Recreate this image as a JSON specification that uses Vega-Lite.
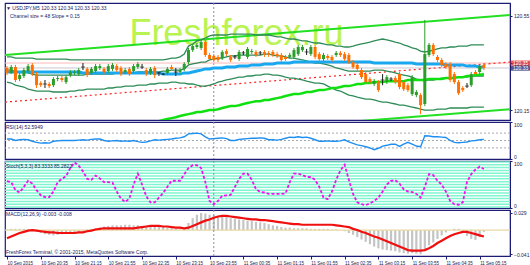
{
"$schema":"https://vega.github.io/schema/vega-lite/v6.json",
"background":"white",
"padding":{"left":1,"top":1,"right":0,"bottom":0},
"spacing":2,
"bounds":"flush",
"config":{"view":{"stroke":"#1c1c78","strokeWidth":1.2},"axis":{"title":null,"grid":false,"labelFont":"Liberation Sans","labelColor":"#202050","domainColor":"#1c1c78","tickColor":"#1c1c78","labelFontSize":5,"tickSize":2,"labelPadding":1.5},"text":{"font":"Liberation Sans"}},
"datasets":{
"chan":[{"t":"2015-09-10T19:52:38","up":120.384,"mid":120.184,"lo":119.984},{"t":"2015-09-11T05:50:56","up":120.554,"mid":120.354,"lo":120.154}],
"bars":[
{"t":"2015-09-10T19:55","o":120.329,"h":120.337,"l":120.299,"c":120.308,"ub":120.376,"mb":120.320,"lb":120.269,"ma":120.312,"rsi":54,"st":57,"mh":0.001,"ms":-0.014},
{"t":"2015-09-10T20:00","o":120.308,"h":120.342,"l":120.303,"c":120.333,"ub":120.376,"mb":120.320,"lb":120.265,"ma":120.312,"rsi":54,"st":55,"mh":0.002,"ms":-0.011},
{"t":"2015-09-10T20:05","o":120.333,"h":120.342,"l":120.269,"c":120.278,"ub":120.371,"mb":120.316,"lb":120.256,"ma":120.312,"rsi":50,"st":38,"mh":0.002,"ms":-0.008},
{"t":"2015-09-10T20:10","o":120.282,"h":120.308,"l":120.273,"c":120.299,"ub":120.371,"mb":120.312,"lb":120.252,"ma":120.312,"rsi":52,"st":33,"mh":0.002,"ms":-0.005},
{"t":"2015-09-10T20:15","o":120.295,"h":120.329,"l":120.286,"c":120.320,"ub":120.371,"mb":120.312,"lb":120.248,"ma":120.312,"rsi":53,"st":45,"mh":0.002,"ms":-0.003},
{"t":"2015-09-10T20:20","o":120.316,"h":120.346,"l":120.308,"c":120.337,"ub":120.371,"mb":120.308,"lb":120.239,"ma":120.312,"rsi":52,"st":58,"mh":0.001,"ms":-0.001},
{"t":"2015-09-10T20:25","o":120.342,"h":120.350,"l":120.295,"c":120.303,"ub":120.371,"mb":120.303,"lb":120.235,"ma":120.312,"rsi":48,"st":52,"mh":0.0,"ms":0.0},
{"t":"2015-09-10T20:30","o":120.303,"h":120.312,"l":120.244,"c":120.256,"ub":120.367,"mb":120.299,"lb":120.231,"ma":120.312,"rsi":45,"st":38,"mh":-0.002,"ms":-0.001},
{"t":"2015-09-10T20:35","o":120.265,"h":120.273,"l":120.248,"c":120.256,"ub":120.367,"mb":120.299,"lb":120.231,"ma":120.312,"rsi":43,"st":27,"mh":-0.005,"ms":-0.002},
{"t":"2015-09-10T20:40","o":120.261,"h":120.278,"l":120.244,"c":120.261,"ub":120.367,"mb":120.299,"lb":120.231,"ma":120.312,"rsi":44,"st":23,"mh":-0.007,"ms":-0.003},
{"t":"2015-09-10T20:45","o":120.261,"h":120.269,"l":120.244,"c":120.252,"ub":120.367,"mb":120.299,"lb":120.231,"ma":120.312,"rsi":43,"st":23,"mh":-0.008,"ms":-0.004},
{"t":"2015-09-10T20:50","o":120.256,"h":120.290,"l":120.248,"c":120.282,"ub":120.367,"mb":120.299,"lb":120.227,"ma":120.312,"rsi":48,"st":35,"mh":-0.009,"ms":-0.004},
{"t":"2015-09-10T20:55","o":120.282,"h":120.295,"l":120.273,"c":120.286,"ub":120.367,"mb":120.299,"lb":120.227,"ma":120.312,"rsi":49,"st":55,"mh":-0.008,"ms":-0.005},
{"t":"2015-09-10T21:00","o":120.286,"h":120.295,"l":120.269,"c":120.278,"ub":120.367,"mb":120.299,"lb":120.227,"ma":120.312,"rsi":50,"st":62,"mh":-0.007,"ms":-0.005},
{"t":"2015-09-10T21:05","o":120.269,"h":120.299,"l":120.261,"c":120.290,"ub":120.367,"mb":120.299,"lb":120.227,"ma":120.312,"rsi":50,"st":68,"mh":-0.006,"ms":-0.005},
{"t":"2015-09-10T21:10","o":120.299,"h":120.320,"l":120.290,"c":120.312,"ub":120.363,"mb":120.299,"lb":120.231,"ma":120.312,"rsi":50,"st":85,"mh":-0.005,"ms":-0.005},
{"t":"2015-09-10T21:15","o":120.308,"h":120.320,"l":120.299,"c":120.312,"ub":120.363,"mb":120.299,"lb":120.231,"ma":120.312,"rsi":50,"st":97,"mh":-0.004,"ms":-0.005},
{"t":"2015-09-10T21:20","o":120.303,"h":120.329,"l":120.295,"c":120.320,"ub":120.363,"mb":120.299,"lb":120.235,"ma":120.312,"rsi":51,"st":90,"mh":-0.003,"ms":-0.004},
{"t":"2015-09-10T21:25","o":120.333,"h":120.350,"l":120.320,"c":120.333,"ub":120.363,"mb":120.299,"lb":120.235,"ma":120.308,"rsi":52,"st":78,"mh":-0.002,"ms":-0.004},
{"t":"2015-09-10T21:30","o":120.325,"h":120.333,"l":120.290,"c":120.299,"ub":120.363,"mb":120.303,"lb":120.239,"ma":120.308,"rsi":51,"st":62,"mh":0.001,"ms":-0.002},
{"t":"2015-09-10T21:35","o":120.308,"h":120.333,"l":120.299,"c":120.325,"ub":120.363,"mb":120.303,"lb":120.239,"ma":120.308,"rsi":53,"st":60,"mh":0.002,"ms":-0.001},
{"t":"2015-09-10T21:40","o":120.316,"h":120.346,"l":120.308,"c":120.337,"ub":120.363,"mb":120.303,"lb":120.239,"ma":120.308,"rsi":54,"st":69,"mh":0.003,"ms":0.001},
{"t":"2015-09-10T21:45","o":120.329,"h":120.346,"l":120.320,"c":120.337,"ub":120.363,"mb":120.303,"lb":120.239,"ma":120.308,"rsi":54,"st":63,"mh":0.004,"ms":0.002},
{"t":"2015-09-10T21:50","o":120.325,"h":120.333,"l":120.303,"c":120.312,"ub":120.363,"mb":120.303,"lb":120.239,"ma":120.308,"rsi":50,"st":55,"mh":0.006,"ms":0.003},
{"t":"2015-09-10T21:55","o":120.316,"h":120.346,"l":120.308,"c":120.337,"ub":120.363,"mb":120.303,"lb":120.244,"ma":120.308,"rsi":48,"st":55,"mh":0.007,"ms":0.003},
{"t":"2015-09-10T22:00","o":120.325,"h":120.350,"l":120.316,"c":120.342,"ub":120.363,"mb":120.303,"lb":120.244,"ma":120.308,"rsi":49,"st":54,"mh":0.008,"ms":0.003},
{"t":"2015-09-10T22:05","o":120.337,"h":120.346,"l":120.312,"c":120.320,"ub":120.363,"mb":120.308,"lb":120.248,"ma":120.308,"rsi":50,"st":35,"mh":0.008,"ms":0.003},
{"t":"2015-09-10T22:10","o":120.329,"h":120.337,"l":120.295,"c":120.303,"ub":120.363,"mb":120.308,"lb":120.248,"ma":120.308,"rsi":48,"st":20,"mh":0.008,"ms":0.003},
{"t":"2015-09-10T22:15","o":120.312,"h":120.329,"l":120.303,"c":120.320,"ub":120.363,"mb":120.308,"lb":120.252,"ma":120.308,"rsi":49,"st":13,"mh":0.009,"ms":0.003},
{"t":"2015-09-10T22:20","o":120.325,"h":120.333,"l":120.295,"c":120.303,"ub":120.363,"mb":120.308,"lb":120.252,"ma":120.308,"rsi":48,"st":20,"mh":0.009,"ms":0.003},
{"t":"2015-09-10T22:25","o":120.316,"h":120.346,"l":120.308,"c":120.337,"ub":120.363,"mb":120.308,"lb":120.252,"ma":120.308,"rsi":50,"st":50,"mh":0.008,"ms":0.003},
{"t":"2015-09-10T22:30","o":120.333,"h":120.354,"l":120.325,"c":120.346,"ub":120.363,"mb":120.312,"lb":120.256,"ma":120.308,"rsi":47,"st":73,"mh":0.008,"ms":0.004},
{"t":"2015-09-10T22:35","o":120.333,"h":120.346,"l":120.325,"c":120.333,"ub":120.363,"mb":120.312,"lb":120.256,"ma":120.308,"rsi":45,"st":50,"mh":0.007,"ms":0.005},
{"t":"2015-09-10T22:40","o":120.320,"h":120.329,"l":120.295,"c":120.303,"ub":120.363,"mb":120.312,"lb":120.256,"ma":120.308,"rsi":46,"st":25,"mh":0.007,"ms":0.006},
{"t":"2015-09-10T22:45","o":120.308,"h":120.333,"l":120.299,"c":120.325,"ub":120.363,"mb":120.312,"lb":120.261,"ma":120.308,"rsi":49,"st":12,"mh":0.007,"ms":0.007},
{"t":"2015-09-10T22:50","o":120.329,"h":120.337,"l":120.286,"c":120.299,"ub":120.363,"mb":120.312,"lb":120.261,"ma":120.308,"g":120.099,"rsi":52,"st":12,"mh":0.007,"ms":0.007},
{"t":"2015-09-10T22:55","o":120.308,"h":120.312,"l":120.295,"c":120.308,"ub":120.363,"mb":120.312,"lb":120.265,"ma":120.308,"g":120.103,"rsi":51,"st":22,"mh":0.006,"ms":0.007},
{"t":"2015-09-10T23:00","o":120.303,"h":120.308,"l":120.299,"c":120.303,"ub":120.363,"mb":120.316,"lb":120.265,"ma":120.303,"g":120.108,"rsi":52,"st":32,"mh":0.005,"ms":0.006},
{"t":"2015-09-10T23:05","o":120.308,"h":120.333,"l":120.299,"c":120.325,"ub":120.367,"mb":120.316,"lb":120.265,"ma":120.303,"g":120.112,"rsi":53,"st":45,"mh":0.004,"ms":0.006},
{"t":"2015-09-10T23:10","o":120.333,"h":120.342,"l":120.316,"c":120.325,"ub":120.371,"mb":120.320,"lb":120.269,"ma":120.303,"g":120.116,"rsi":54,"st":58,"mh":0.003,"ms":0.005},
{"t":"2015-09-10T23:15","o":120.312,"h":120.329,"l":120.295,"c":120.312,"ub":120.371,"mb":120.320,"lb":120.269,"ma":120.303,"g":120.120,"rsi":56,"st":58,"mh":0.002,"ms":0.004},
{"t":"2015-09-10T23:20","o":120.312,"h":120.329,"l":120.303,"c":120.320,"ub":120.376,"mb":120.320,"lb":120.265,"ma":120.303,"g":120.125,"rsi":57,"st":58,"mh":0.001,"ms":0.004},
{"t":"2015-09-10T23:25","o":120.325,"h":120.354,"l":120.316,"c":120.346,"ub":120.388,"mb":120.325,"lb":120.265,"ma":120.308,"g":120.129,"rsi":60,"st":72,"mh":0.004,"ms":0.003},
{"t":"2015-09-10T23:30","o":120.354,"h":120.414,"l":120.346,"c":120.405,"ub":120.422,"mb":120.342,"lb":120.261,"ma":120.308,"g":120.133,"rsi":68,"st":85,"mh":0.012,"ms":0.004},
{"t":"2015-09-10T23:35","o":120.405,"h":120.431,"l":120.397,"c":120.422,"ub":120.431,"mb":120.346,"lb":120.261,"ma":120.312,"g":120.137,"rsi":69,"st":91,"mh":0.020,"ms":0.007},
{"t":"2015-09-10T23:40","o":120.418,"h":120.435,"l":120.410,"c":120.427,"ub":120.444,"mb":120.350,"lb":120.256,"ma":120.316,"g":120.142,"rsi":70,"st":91,"mh":0.026,"ms":0.010},
{"t":"2015-09-10T23:45","o":120.414,"h":120.448,"l":120.405,"c":120.439,"ub":120.448,"mb":120.354,"lb":120.252,"ma":120.320,"g":120.142,"rsi":68,"st":85,"mh":0.029,"ms":0.013},
{"t":"2015-09-10T23:50","o":120.439,"h":120.456,"l":120.376,"c":120.384,"ub":120.456,"mb":120.354,"lb":120.252,"ma":120.325,"g":120.146,"rsi":60,"st":55,"mh":0.028,"ms":0.016},
{"t":"2015-09-10T23:55","o":120.384,"h":120.393,"l":120.359,"c":120.367,"ub":120.465,"mb":120.363,"lb":120.256,"ma":120.325,"g":120.150,"rsi":54,"st":15,"mh":0.026,"ms":0.018},
{"t":"2015-09-11T00:00","o":120.380,"h":120.388,"l":120.354,"c":120.363,"ub":120.469,"mb":120.367,"lb":120.261,"ma":120.329,"g":120.150,"rsi":55,"st":8,"mh":0.025,"ms":0.021},
{"t":"2015-09-11T00:05","o":120.376,"h":120.384,"l":120.354,"c":120.363,"ub":120.469,"mb":120.371,"lb":120.269,"ma":120.329,"g":120.154,"rsi":56,"st":15,"mh":0.024,"ms":0.023},
{"t":"2015-09-11T00:10","o":120.371,"h":120.405,"l":120.363,"c":120.397,"ub":120.469,"mb":120.371,"lb":120.273,"ma":120.329,"g":120.159,"rsi":57,"st":26,"mh":0.023,"ms":0.024},
{"t":"2015-09-11T00:15","o":120.401,"h":120.410,"l":120.380,"c":120.388,"ub":120.469,"mb":120.376,"lb":120.278,"ma":120.333,"g":120.163,"rsi":55,"st":27,"mh":0.022,"ms":0.024},
{"t":"2015-09-11T00:20","o":120.376,"h":120.384,"l":120.354,"c":120.363,"ub":120.473,"mb":120.380,"lb":120.282,"ma":120.333,"g":120.167,"rsi":50,"st":28,"mh":0.020,"ms":0.023},
{"t":"2015-09-11T00:25","o":120.376,"h":120.384,"l":120.367,"c":120.376,"ub":120.473,"mb":120.380,"lb":120.286,"ma":120.333,"g":120.167,"rsi":50,"st":45,"mh":0.019,"ms":0.022},
{"t":"2015-09-11T00:30","o":120.367,"h":120.405,"l":120.359,"c":120.397,"ub":120.473,"mb":120.384,"lb":120.290,"ma":120.337,"g":120.171,"rsi":53,"st":62,"mh":0.018,"ms":0.021},
{"t":"2015-09-11T00:35","o":120.393,"h":120.401,"l":120.384,"c":120.393,"ub":120.473,"mb":120.384,"lb":120.290,"ma":120.337,"g":120.176,"rsi":54,"st":73,"mh":0.017,"ms":0.020},
{"t":"2015-09-11T00:40","o":120.376,"h":120.418,"l":120.367,"c":120.410,"ub":120.473,"mb":120.384,"lb":120.295,"ma":120.337,"g":120.180,"rsi":55,"st":73,"mh":0.016,"ms":0.019},
{"t":"2015-09-11T00:45","o":120.397,"h":120.410,"l":120.388,"c":120.401,"ub":120.473,"mb":120.384,"lb":120.295,"ma":120.342,"g":120.184,"rsi":56,"st":60,"mh":0.015,"ms":0.018},
{"t":"2015-09-11T00:50","o":120.397,"h":120.405,"l":120.376,"c":120.384,"ub":120.469,"mb":120.384,"lb":120.299,"ma":120.342,"g":120.188,"rsi":56,"st":40,"mh":0.014,"ms":0.018},
{"t":"2015-09-11T00:55","o":120.393,"h":120.401,"l":120.384,"c":120.393,"ub":120.469,"mb":120.384,"lb":120.299,"ma":120.342,"g":120.188,"rsi":57,"st":34,"mh":0.013,"ms":0.017},
{"t":"2015-09-11T01:00","o":120.397,"h":120.405,"l":120.376,"c":120.384,"ub":120.469,"mb":120.388,"lb":120.303,"ma":120.346,"g":120.193,"rsi":56,"st":33,"mh":0.012,"ms":0.017},
{"t":"2015-09-11T01:05","o":120.393,"h":120.401,"l":120.376,"c":120.384,"ub":120.469,"mb":120.388,"lb":120.303,"ma":120.346,"g":120.193,"rsi":52,"st":30,"mh":0.010,"ms":0.016},
{"t":"2015-09-11T01:10","o":120.397,"h":120.405,"l":120.376,"c":120.384,"ub":120.465,"mb":120.384,"lb":120.299,"ma":120.346,"g":120.197,"rsi":52,"st":30,"mh":0.008,"ms":0.015},
{"t":"2015-09-11T01:15","o":120.388,"h":120.397,"l":120.371,"c":120.380,"ub":120.461,"mb":120.380,"lb":120.299,"ma":120.350,"g":120.201,"rsi":51,"st":30,"mh":0.007,"ms":0.014},
{"t":"2015-09-11T01:20","o":120.384,"h":120.393,"l":120.354,"c":120.363,"ub":120.461,"mb":120.380,"lb":120.295,"ma":120.350,"g":120.205,"rsi":53,"st":30,"mh":0.005,"ms":0.013},
{"t":"2015-09-11T01:25","o":120.376,"h":120.384,"l":120.359,"c":120.367,"ub":120.456,"mb":120.376,"lb":120.290,"ma":120.350,"g":120.210,"rsi":56,"st":31,"mh":0.004,"ms":0.012},
{"t":"2015-09-11T01:30","o":120.376,"h":120.393,"l":120.367,"c":120.384,"ub":120.452,"mb":120.371,"lb":120.286,"ma":120.350,"g":120.214,"rsi":59,"st":55,"mh":0.004,"ms":0.011},
{"t":"2015-09-11T01:35","o":120.376,"h":120.414,"l":120.367,"c":120.405,"ub":120.452,"mb":120.371,"lb":120.286,"ma":120.354,"g":120.218,"rsi":58,"st":73,"mh":0.003,"ms":0.010},
{"t":"2015-09-11T01:40","o":120.388,"h":120.427,"l":120.380,"c":120.418,"ub":120.448,"mb":120.367,"lb":120.282,"ma":120.354,"g":120.218,"rsi":60,"st":73,"mh":0.003,"ms":0.010},
{"t":"2015-09-11T01:45","o":120.405,"h":120.427,"l":120.397,"c":120.418,"ub":120.444,"mb":120.363,"lb":120.278,"ma":120.354,"g":120.222,"rsi":58,"st":70,"mh":0.003,"ms":0.009},
{"t":"2015-09-11T01:50","o":120.397,"h":120.410,"l":120.384,"c":120.397,"ub":120.444,"mb":120.359,"lb":120.273,"ma":120.354,"g":120.227,"rsi":59,"st":66,"mh":0.003,"ms":0.009},
{"t":"2015-09-11T01:55","o":120.388,"h":120.427,"l":120.380,"c":120.418,"ub":120.439,"mb":120.354,"lb":120.269,"ma":120.354,"g":120.227,"rsi":56,"st":66,"mh":0.002,"ms":0.009},
{"t":"2015-09-11T02:00","o":120.418,"h":120.427,"l":120.367,"c":120.376,"ub":120.435,"mb":120.350,"lb":120.265,"ma":120.354,"g":120.231,"rsi":52,"st":60,"mh":0.002,"ms":0.009},
{"t":"2015-09-11T02:05","o":120.388,"h":120.397,"l":120.359,"c":120.367,"ub":120.435,"mb":120.350,"lb":120.265,"ma":120.354,"g":120.235,"rsi":48,"st":45,"mh":0.002,"ms":0.009},
{"t":"2015-09-11T02:10","o":120.367,"h":120.393,"l":120.359,"c":120.384,"ub":120.431,"mb":120.346,"lb":120.261,"ma":120.354,"g":120.235,"rsi":48,"st":22,"mh":0.002,"ms":0.009},
{"t":"2015-09-11T02:15","o":120.380,"h":120.388,"l":120.363,"c":120.371,"ub":120.427,"mb":120.342,"lb":120.252,"ma":120.354,"g":120.239,"rsi":49,"st":19,"mh":0.002,"ms":0.009},
{"t":"2015-09-11T02:20","o":120.376,"h":120.384,"l":120.354,"c":120.363,"ub":120.427,"mb":120.337,"lb":120.244,"ma":120.354,"g":120.244,"rsi":48,"st":35,"mh":0.001,"ms":0.009},
{"t":"2015-09-11T02:25","o":120.384,"h":120.401,"l":120.376,"c":120.393,"ub":120.422,"mb":120.329,"lb":120.235,"ma":120.354,"g":120.244,"rsi":48,"st":60,"mh":0.001,"ms":0.008},
{"t":"2015-09-11T02:30","o":120.393,"h":120.401,"l":120.376,"c":120.384,"ub":120.422,"mb":120.325,"lb":120.231,"ma":120.354,"g":120.248,"rsi":49,"st":80,"mh":0.0,"ms":0.007},
{"t":"2015-09-11T02:35","o":120.388,"h":120.397,"l":120.359,"c":120.367,"ub":120.418,"mb":120.320,"lb":120.222,"ma":120.354,"g":120.252,"rsi":52,"st":92,"mh":-0.002,"ms":0.006},
{"t":"2015-09-11T02:40","o":120.384,"h":120.393,"l":120.346,"c":120.354,"ub":120.418,"mb":120.316,"lb":120.214,"ma":120.354,"g":120.252,"rsi":46,"st":60,"mh":-0.005,"ms":0.005},
{"t":"2015-09-11T02:45","o":120.354,"h":120.363,"l":120.325,"c":120.333,"ub":120.422,"mb":120.316,"lb":120.210,"ma":120.354,"g":120.256,"rsi":42,"st":30,"mh":-0.008,"ms":0.002},
{"t":"2015-09-11T02:50","o":120.342,"h":120.350,"l":120.316,"c":120.325,"ub":120.427,"mb":120.316,"lb":120.205,"ma":120.354,"g":120.261,"rsi":38,"st":12,"mh":-0.012,"ms":0.0},
{"t":"2015-09-11T02:55","o":120.320,"h":120.329,"l":120.282,"c":120.290,"ub":120.431,"mb":120.316,"lb":120.201,"ma":120.354,"g":120.261,"rsi":36,"st":8,"mh":-0.016,"ms":-0.003},
{"t":"2015-09-11T03:00","o":120.303,"h":120.312,"l":120.261,"c":120.269,"ub":120.435,"mb":120.316,"lb":120.197,"ma":120.354,"g":120.265,"rsi":33,"st":6,"mh":-0.020,"ms":-0.005},
{"t":"2015-09-11T03:05","o":120.282,"h":120.290,"l":120.261,"c":120.269,"ub":120.439,"mb":120.316,"lb":120.197,"ma":120.354,"g":120.265,"rsi":30,"st":10,"mh":-0.024,"ms":-0.008},
{"t":"2015-09-11T03:10","o":120.261,"h":120.282,"l":120.252,"c":120.273,"ub":120.444,"mb":120.320,"lb":120.193,"ma":120.350,"g":120.269,"rsi":25,"st":15,"mh":-0.028,"ms":-0.011},
{"t":"2015-09-11T03:15","o":120.269,"h":120.278,"l":120.227,"c":120.235,"ub":120.448,"mb":120.320,"lb":120.188,"ma":120.350,"g":120.269,"rsi":29,"st":22,"mh":-0.031,"ms":-0.013},
{"t":"2015-09-11T03:20","o":120.278,"h":120.303,"l":120.256,"c":120.278,"ub":120.452,"mb":120.320,"lb":120.184,"ma":120.350,"g":120.269,"rsi":35,"st":35,"mh":-0.033,"ms":-0.016},
{"t":"2015-09-11T03:25","o":120.269,"h":120.299,"l":120.261,"c":120.290,"ub":120.448,"mb":120.316,"lb":120.184,"ma":120.350,"g":120.273,"rsi":37,"st":50,"mh":-0.034,"ms":-0.019},
{"t":"2015-09-11T03:30","o":120.282,"h":120.290,"l":120.273,"c":120.282,"ub":120.444,"mb":120.312,"lb":120.180,"ma":120.350,"g":120.273,"rsi":40,"st":58,"mh":-0.035,"ms":-0.022},
{"t":"2015-09-11T03:35","o":120.286,"h":120.295,"l":120.261,"c":120.269,"ub":120.439,"mb":120.308,"lb":120.176,"ma":120.350,"g":120.273,"rsi":40,"st":59,"mh":-0.036,"ms":-0.025},
{"t":"2015-09-11T03:40","o":120.303,"h":120.312,"l":120.239,"c":120.248,"ub":120.435,"mb":120.303,"lb":120.171,"ma":120.350,"g":120.273,"rsi":34,"st":52,"mh":-0.038,"ms":-0.028},
{"t":"2015-09-11T03:45","o":120.269,"h":120.278,"l":120.231,"c":120.239,"ub":120.427,"mb":120.299,"lb":120.171,"ma":120.350,"g":120.273,"rsi":40,"st":40,"mh":-0.039,"ms":-0.031},
{"t":"2015-09-11T03:50","o":120.256,"h":120.265,"l":120.227,"c":120.235,"ub":120.422,"mb":120.295,"lb":120.167,"ma":120.350,"g":120.278,"rsi":45,"st":35,"mh":-0.040,"ms":-0.034},
{"t":"2015-09-11T03:55","o":120.218,"h":120.299,"l":120.210,"c":120.290,"ub":120.414,"mb":120.290,"lb":120.163,"ma":120.350,"g":120.278,"rsi":40,"st":34,"mh":-0.039,"ms":-0.035},
{"t":"2015-09-11T04:00","o":120.214,"h":120.235,"l":120.205,"c":120.227,"ub":120.410,"mb":120.282,"lb":120.159,"ma":120.346,"g":120.278,"rsi":35,"st":30,"mh":-0.040,"ms":-0.035},
{"t":"2015-09-11T04:05","o":120.214,"h":120.222,"l":120.133,"c":120.171,"ub":120.401,"mb":120.278,"lb":120.154,"ma":120.346,"g":120.278,"rsi":33,"st":22,"mh":-0.041,"ms":-0.035},
{"t":"2015-09-11T04:10","o":120.176,"h":120.533,"l":120.167,"c":120.388,"ub":120.397,"mb":120.273,"lb":120.150,"ma":120.346,"g":120.278,"rsi":63,"st":45,"mh":-0.032,"ms":-0.034},
{"t":"2015-09-11T04:15","o":120.384,"h":120.435,"l":120.376,"c":120.427,"ub":120.401,"mb":120.278,"lb":120.150,"ma":120.346,"g":120.282,"rsi":62,"st":72,"mh":-0.026,"ms":-0.031},
{"t":"2015-09-11T04:20","o":120.427,"h":120.435,"l":120.380,"c":120.388,"ub":120.405,"mb":120.278,"lb":120.150,"ma":120.346,"g":120.282,"rsi":60,"st":70,"mh":-0.021,"ms":-0.027},
{"t":"2015-09-11T04:25","o":120.376,"h":120.384,"l":120.354,"c":120.363,"ub":120.410,"mb":120.282,"lb":120.154,"ma":120.346,"g":120.282,"rsi":60,"st":58,"mh":-0.015,"ms":-0.022},
{"t":"2015-09-11T04:30","o":120.363,"h":120.371,"l":120.333,"c":120.342,"ub":120.414,"mb":120.286,"lb":120.154,"ma":120.346,"g":120.282,"rsi":59,"st":50,"mh":-0.009,"ms":-0.018},
{"t":"2015-09-11T04:35","o":120.346,"h":120.354,"l":120.325,"c":120.333,"ub":120.414,"mb":120.286,"lb":120.154,"ma":120.342,"g":120.286,"rsi":58,"st":35,"mh":-0.004,"ms":-0.014},
{"t":"2015-09-11T04:40","o":120.346,"h":120.354,"l":120.269,"c":120.278,"ub":120.418,"mb":120.286,"lb":120.159,"ma":120.342,"g":120.286,"rsi":50,"st":15,"mh":0.0,"ms":-0.010},
{"t":"2015-09-11T04:45","o":120.303,"h":120.312,"l":120.261,"c":120.269,"ub":120.418,"mb":120.290,"lb":120.159,"ma":120.342,"g":120.286,"rsi":45,"st":8,"mh":0.002,"ms":-0.007},
{"t":"2015-09-11T04:50","o":120.269,"h":120.278,"l":120.214,"c":120.222,"ub":120.422,"mb":120.290,"lb":120.159,"ma":120.342,"g":120.290,"rsi":44,"st":7,"mh":0.002,"ms":-0.005},
{"t":"2015-09-11T04:55","o":120.244,"h":120.252,"l":120.227,"c":120.235,"ub":120.422,"mb":120.290,"lb":120.159,"ma":120.342,"g":120.290,"rsi":45,"st":12,"mh":-0.005,"ms":-0.003},
{"t":"2015-09-11T05:00","o":120.252,"h":120.265,"l":120.244,"c":120.252,"ub":120.422,"mb":120.290,"lb":120.159,"ma":120.337,"g":120.295,"rsi":46,"st":55,"mh":-0.010,"ms":-0.003},
{"t":"2015-09-11T05:05","o":120.256,"h":120.312,"l":120.248,"c":120.303,"ub":120.427,"mb":120.295,"lb":120.163,"ma":120.337,"g":120.295,"rsi":49,"st":72,"mh":-0.015,"ms":-0.005},
{"t":"2015-09-11T05:10","o":120.312,"h":120.320,"l":120.295,"c":120.303,"ub":120.427,"mb":120.295,"lb":120.163,"ma":120.337,"g":120.299,"rsi":50,"st":82,"mh":-0.017,"ms":-0.007},
{"t":"2015-09-11T05:15","o":120.312,"h":120.346,"l":120.303,"c":120.337,"ub":120.427,"mb":120.295,"lb":120.163,"ma":120.333,"g":120.299,"rsi":52,"st":88,"mh":-0.012,"ms":-0.009},
{"t":"2015-09-11T05:20","o":120.342,"h":120.350,"l":120.320,"c":120.329,"ub":120.427,"mb":120.295,"lb":120.163,"ma":120.333,"g":120.303,"rsi":53,"st":83,"mh":-0.003,"ms":-0.011}
]},
"vconcat":[
{"width":505,"height":117,"data":{"name":"bars"},
 "encoding":{"x":{"field":"t","type":"temporal","scale":{"domain":["2015-09-10T19:52:38","2015-09-11T05:50:56"]},"axis":null}},
 "layer":[
  {"transform":[{"filter":"hours(datum.t) == 22 && minutes(datum.t) == 20"}],"mark":{"type":"text","fontSize":36,"color":"#b2f23c","align":"left","baseline":"alphabetic","opacity":0.9},"encoding":{"y":{"datum":120.427,"type":"quantitative","scale":{"domain":[120.108,120.605],"nice":false,"zero":false},"axis":{"orient":"right","values":[120.15,120.25,120.35,120.45,120.55],"format":".2f"}},"text":{"value":"Freshforex.ru"}}},
  {"transform":[{"filter":"hours(datum.t) == 0 && minutes(datum.t) == 0"}],"mark":{"type":"rule","color":"#8a8aa8","strokeDash":[2,2],"strokeWidth":1}},
  {"data":{"name":"chan"},"mark":{"type":"line","color":"#ffb8b8","strokeWidth":1},"encoding":{"y":{"datum":120.35,"type":"quantitative"}}},
  {"data":{"name":"chan"},"mark":{"type":"line","color":"#c8c8d0","strokeWidth":1},"encoding":{"y":{"datum":120.329,"type":"quantitative"}}},
  {"data":{"name":"chan"},"mark":{"type":"line","color":"#22e022","strokeWidth":2,"clip":true},"encoding":{"y":{"field":"up","type":"quantitative"}}},
  {"data":{"name":"chan"},"mark":{"type":"line","color":"#ff2020","strokeWidth":1.2,"strokeDash":[2,3],"clip":true},"encoding":{"y":{"field":"mid","type":"quantitative"}}},
  {"data":{"name":"chan"},"mark":{"type":"line","color":"#22e022","strokeWidth":2,"clip":true},"encoding":{"y":{"field":"lo","type":"quantitative"}}},
  {"mark":{"type":"line","color":"#2e8b57","strokeWidth":1.3,"clip":true},"encoding":{"y":{"field":"ub","type":"quantitative"}}},
  {"mark":{"type":"line","color":"#2e8b57","strokeWidth":1.3,"clip":true},"encoding":{"y":{"field":"mb","type":"quantitative"}}},
  {"mark":{"type":"line","color":"#2e8b57","strokeWidth":1.3,"clip":true},"encoding":{"y":{"field":"lb","type":"quantitative"}}},
  {"mark":{"type":"line","color":"#18a8f0","strokeWidth":3,"clip":true},"encoding":{"y":{"field":"ma","type":"quantitative"}}},
  {"transform":[{"filter":"isValid(datum.g)"}],"mark":{"type":"line","color":"#10e010","strokeWidth":2.5,"clip":true},"encoding":{"y":{"field":"g","type":"quantitative"}}},
  {"mark":{"type":"rule","strokeWidth":1,"clip":true},"encoding":{"y":{"field":"l","type":"quantitative"},"y2":{"field":"h"},"color":{"condition":[{"test":"datum.c > datum.o","value":"#2a9d2a"},{"test":"datum.c < datum.o","value":"#ff7000"}],"value":"#1a1a1a"}}},
  {"mark":{"type":"rule","strokeWidth":3,"clip":true},"encoding":{"y":{"field":"o","type":"quantitative"},"y2":{"field":"c"},"color":{"condition":[{"test":"datum.c > datum.o","value":"#2a9d2a"},{"test":"datum.c < datum.o","value":"#ff7000"}],"value":"#1a1a1a"}}},
  {"transform":[{"filter":"datum.o == datum.c"}],"mark":{"type":"tick","orient":"horizontal","size":4,"thickness":1,"color":"#1a1a1a"},"encoding":{"y":{"field":"c","type":"quantitative"}}},
  {"data":{"name":"chan"},"transform":[{"filter":"datum.mid > 120.3"}],"mark":{"type":"tick","orient":"horizontal","size":21,"thickness":5,"xOffset":11,"color":"#e01010"},"encoding":{"y":{"datum":120.35,"type":"quantitative"}}},
  {"data":{"name":"chan"},"transform":[{"filter":"datum.mid > 120.3"}],"mark":{"type":"tick","orient":"horizontal","size":21,"thickness":5,"xOffset":11,"color":"#101060"},"encoding":{"y":{"datum":120.328,"type":"quantitative"}}},
  {"data":{"name":"chan"},"transform":[{"filter":"datum.mid > 120.3"}],"mark":{"type":"text","fontSize":5,"color":"white","align":"left","baseline":"middle","dx":3},"encoding":{"y":{"datum":120.35,"type":"quantitative"},"text":{"value":"120.35"}}},
  {"data":{"name":"chan"},"transform":[{"filter":"datum.mid > 120.3"}],"mark":{"type":"text","fontSize":5,"color":"white","align":"left","baseline":"middle","dx":3},"encoding":{"y":{"datum":120.328,"type":"quantitative"},"text":{"value":"120.33"}}},
  {"transform":[{"filter":"hours(datum.t) == 19 && minutes(datum.t) == 55"}],"mark":{"type":"text","fontSize":5,"color":"#1a1a60","align":"left","baseline":"middle","dx":-1},"encoding":{"y":{"datum":120.584,"type":"quantitative"},"text":{"value":"▼ USDJPY,M5  120.33 120.34 120.33 120.33"}}},
  {"transform":[{"filter":"hours(datum.t) == 19 && minutes(datum.t) == 55"}],"mark":{"type":"text","fontSize":5,"color":"#1a1a60","align":"left","baseline":"middle","dx":3},"encoding":{"y":{"datum":120.55,"type":"quantitative"},"text":{"value":"Channel size = 48 Slope = 0.15"}}}
 ]},
{"width":505,"height":37,"data":{"name":"bars"},
 "encoding":{"x":{"field":"t","type":"temporal","scale":{"domain":["2015-09-10T19:52:38","2015-09-11T05:50:56"]},"axis":null}},
 "layer":[
  {"data":{"values":[{"lv":70},{"lv":50},{"lv":30}]},"mark":{"type":"rule","color":"#a8a8b0","strokeDash":[2,2],"strokeWidth":1},"encoding":{"x":null,"y":{"field":"lv","type":"quantitative","scale":{"domain":[0,100],"nice":false},"axis":{"orient":"right","values":[0,30,50,70,100],"labelFlush":true}}}},
  {"transform":[{"filter":"hours(datum.t) == 0 && minutes(datum.t) == 0"}],"mark":{"type":"rule","color":"#8a8aa8","strokeDash":[2,2],"strokeWidth":1}},
  {"mark":{"type":"line","color":"#1e8ff0","strokeWidth":1.4},"encoding":{"y":{"field":"rsi","type":"quantitative"}}},
  {"transform":[{"filter":"hours(datum.t) == 19 && minutes(datum.t) == 55"}],"mark":{"type":"text","fontSize":5,"color":"#1a1a60","align":"left","baseline":"middle","dx":-1},"encoding":{"y":{"datum":87,"type":"quantitative"},"text":{"value":"RSI(14) 52.5949"}}}
 ]},
{"width":505,"height":47,"data":{"name":"bars"},
 "encoding":{"x":{"field":"t","type":"temporal","scale":{"domain":["2015-09-10T19:52:38","2015-09-11T05:50:56"]},"axis":null}},
 "layer":[
  {"data":{"values":[{"lv":2},{"lv":8},{"lv":14},{"lv":20},{"lv":26},{"lv":32},{"lv":38},{"lv":44},{"lv":50},{"lv":56},{"lv":62},{"lv":68},{"lv":74},{"lv":80},{"lv":86},{"lv":92},{"lv":98}]},"mark":{"type":"rule","color":"#80f5d0","strokeWidth":1.5},"encoding":{"x":null,"y":{"field":"lv","type":"quantitative","scale":{"domain":[0,100],"nice":false},"axis":{"orient":"right","values":[0,100],"labelFlush":true}}}},
  {"transform":[{"filter":"hours(datum.t) == 0 && minutes(datum.t) == 0"}],"mark":{"type":"rule","color":"#8a8aa8","strokeDash":[2,2],"strokeWidth":1}},
  {"mark":{"type":"line","color":"#f010f0","strokeWidth":1.8,"strokeDash":[3,2]},"encoding":{"y":{"field":"st","type":"quantitative"}}},
  {"transform":[{"filter":"hours(datum.t) == 19 && minutes(datum.t) == 55"}],"mark":{"type":"text","fontSize":5,"color":"#1a1a60","align":"left","baseline":"middle","dx":-1},"encoding":{"y":{"datum":90,"type":"quantitative"},"text":{"value":"Stoch(5,3,3) 83.3333 85.2822"}}}
 ]},
{"width":505,"height":46,"data":{"name":"bars"},
 "encoding":{"x":{"field":"t","type":"temporal","scale":{"domain":["2015-09-10T19:52:38","2015-09-11T05:50:56"]},"axis":{"orient":"bottom","values":["2015-09-10T19:55","2015-09-10T20:35","2015-09-10T21:15","2015-09-10T21:55","2015-09-10T22:35","2015-09-10T23:15","2015-09-10T23:55","2015-09-11T00:35","2015-09-11T01:15","2015-09-11T01:55","2015-09-11T02:35","2015-09-11T03:15","2015-09-11T03:55","2015-09-11T04:35","2015-09-11T05:15"],"labelExpr":"hours(datum.value) == 19 ? '10 Sep 2015' : timeFormat(datum.value, '%d %b %H:%M')","labelAlign":"left","labelPadding":1,"tickSize":3,"labelFontSize":4.5,"labelOverlap":false,"labelBound":false,"domain":false}}},
 "layer":[
  {"mark":{"type":"rule","color":"#c4c4c4","strokeWidth":2.2},"encoding":{"y":{"field":"mh","type":"quantitative","scale":{"domain":[-0.044,0.034],"nice":false,"zero":false},"axis":{"orient":"right","values":[0.029,0,-0.041],"labelExpr":"datum.value == 0 ? '0.00' : format(datum.value, '.3f')","labelFlush":true}},"y2":{"datum":0}}},
  {"data":{"values":[{}]},"mark":{"type":"rule","color":"#e8d8a0","strokeWidth":1.2},"encoding":{"x":null,"y":{"datum":0,"type":"quantitative"}}},
  {"transform":[{"filter":"hours(datum.t) == 0 && minutes(datum.t) == 0"}],"mark":{"type":"rule","color":"#8a8aa8","strokeDash":[2,2],"strokeWidth":1}},
  {"mark":{"type":"line","color":"#f01010","strokeWidth":2.2},"encoding":{"y":{"field":"ms","type":"quantitative"}}},
  {"transform":[{"filter":"hours(datum.t) == 19 && minutes(datum.t) == 55"}],"mark":{"type":"text","fontSize":5,"color":"#1a1a60","align":"left","baseline":"middle","dx":-1},"encoding":{"y":{"datum":0.027,"type":"quantitative"},"text":{"value":"MACD(12,26,9) -0.003 -0.008"}}},
  {"transform":[{"filter":"hours(datum.t) == 19 && minutes(datum.t) == 55"}],"mark":{"type":"text","fontSize":5,"color":"#1a1a60","align":"left","baseline":"middle","dx":-1},"encoding":{"y":{"datum":-0.037,"type":"quantitative"},"text":{"value":"FreshForex Terminal, © 2001-2015, MetaQuotes Software Corp."}}}
 ]}
]
}
